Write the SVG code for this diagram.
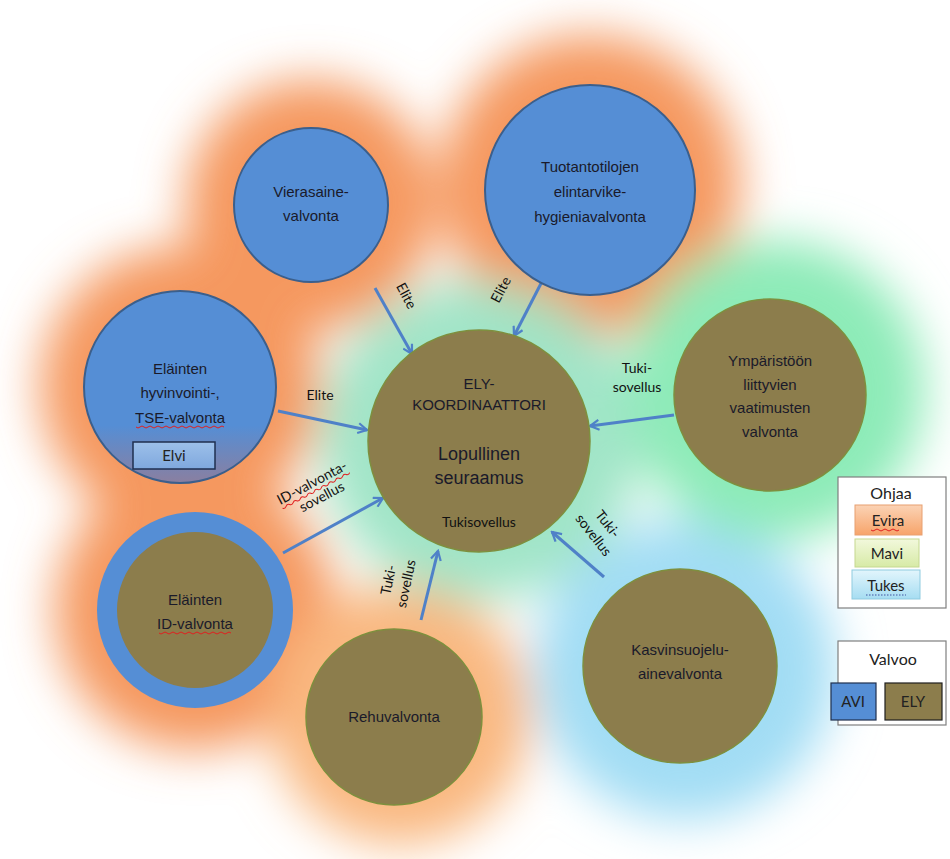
<svg xmlns="http://www.w3.org/2000/svg" width="950" height="859" viewBox="0 0 950 859">
<defs>
<filter id="blur" x="-50%" y="-50%" width="200%" height="200%"><feGaussianBlur stdDeviation="24"/></filter>
<marker id="arr" viewBox="0 0 12 12" refX="10" refY="6" markerWidth="12" markerHeight="12" markerUnits="userSpaceOnUse" orient="auto"><path d="M1,1 L10,6 L1,11" fill="none" stroke="#4F81C8" stroke-width="2.2"/></marker>
<linearGradient id="gEvira" x1="0" y1="0" x2="0" y2="1"><stop offset="0" stop-color="#FBD3B5"/><stop offset="1" stop-color="#F7A46A"/></linearGradient>
<linearGradient id="gMavi" x1="0" y1="0" x2="0" y2="1"><stop offset="0" stop-color="#F2F8DC"/><stop offset="1" stop-color="#D7EAA6"/></linearGradient>
<linearGradient id="gTukes" x1="0" y1="0" x2="0" y2="1"><stop offset="0" stop-color="#E2F5FC"/><stop offset="1" stop-color="#A6DDF2"/></linearGradient>
<linearGradient id="gElvi" x1="0" y1="0" x2="0" y2="1"><stop offset="0" stop-color="#9DC0EA"/><stop offset="1" stop-color="#7FA8DD"/></linearGradient>
<linearGradient id="gHyv" x1="0" y1="0" x2="0" y2="1"><stop offset="0.7" stop-color="#558ED5"/><stop offset="1" stop-color="#8A7FA0"/></linearGradient>
</defs>
<style>
.avi{fill:#558ED5;stroke:#3B5F8C;stroke-width:2}
.ely{fill:#8C7D4C;stroke:#7E8F3E;stroke-width:1.5}
.t{font-family:"Liberation Sans",Arial,sans-serif;font-size:15px;fill:#1A1A2A;text-anchor:middle}
.l{font-family:Lato,"Open Sans",sans-serif;font-size:14px;fill:#111;text-anchor:middle}
.lg{font-family:Lato,"Open Sans",sans-serif;font-size:15px;fill:#222;text-anchor:middle}
.c{stroke:#4F81C8;stroke-width:3;fill:none;marker-end:url(#arr)}
.sq{fill:none;stroke:#E02020;stroke-width:1}
.go{fill:#F5985F}
</style>
<rect width="950" height="859" fill="#FFFFFF"/>
<g id="glows" filter="url(#blur)">
<circle class="go" cx="311" cy="205" r="125"/>
<circle class="go" cx="590" cy="185" r="150"/>
<circle class="go" cx="180" cy="387" r="140"/>
<circle class="go" cx="195" cy="610" r="140"/>
<circle cx="400" cy="715" r="130" fill="#F9B880"/>
<circle cx="685" cy="670" r="150" fill="#A2DDF4"/>
<circle cx="775" cy="390" r="150" fill="#8DEBB8"/>
<circle cx="480" cy="440" r="160" fill="#9CE4C4" opacity="0.95"/>
</g>
<g id="connectors">
<line class="c" x1="375" y1="288" x2="412" y2="354"/>
<line class="c" x1="551" y1="264" x2="514" y2="336"/>
<line class="c" x1="278" y1="411" x2="367" y2="430"/>
<line class="c" x1="674" y1="415" x2="590" y2="426"/>
<line class="c" x1="283" y1="553" x2="383" y2="498"/>
<line class="c" x1="421" y1="620" x2="438" y2="551"/>
<line class="c" x1="604" y1="577" x2="552" y2="532"/>
<text class="l" transform="translate(402,298) rotate(62)">Elite</text>
<text class="l" transform="translate(505,292) rotate(-62)">Elite</text>
<text class="l" x="320" y="400">Elite</text>
<text class="l" x="637" y="373">Tuki-</text>
<text class="l" x="637" y="392">sovellus</text>
<g transform="translate(318,494) rotate(-28)"><text class="l" x="0" y="-8">ID-valvonta-</text><text class="l" x="2" y="9">sovellus</text>
<path class="sq" d="M-38,-4 q2,2 4,0 t4,0 t4,0 t4,0 t4,0 t4,0 t4,0 t4,0 t4,0 t4,0 t4,0 t4,0 t4,0 t4,0 t4,0 t4,0 t4,0 t4,0 t4,0"/></g>
<g transform="translate(398,582) rotate(-78)"><text class="l" x="0" y="-5">Tuki-</text><text class="l" x="0" y="13">sovellus</text></g>
<g transform="translate(600,530) rotate(52)"><text class="l" x="0" y="-5">Tuki-</text><text class="l" x="0" y="13">sovellus</text></g>
</g>
<g id="vierasaine"><circle class="avi" cx="311" cy="205" r="77"/>
<text class="t" x="311" y="197">Vierasaine-</text><text class="t" x="311" y="221">valvonta</text></g>
<g id="tuotanto"><circle class="avi" cx="590" cy="190" r="105"/>
<text class="t" x="590" y="172">Tuotantotilojen</text><text class="t" x="590" y="197">elintarvike-</text><text class="t" x="590" y="222">hygieniavalvonta</text></g>
<g id="hyvinvointi"><circle class="avi" cx="180" cy="387" r="96" style="fill:url(#gHyv)"/>
<text class="t" x="180" y="374">Eläinten</text><text class="t" x="180" y="398">hyvinvointi-,</text><text class="t" x="180" y="423">TSE-valvonta</text>
<path class="sq" d="M136,427 q2,2 4,0 t4,0 t4,0 t4,0 t4,0 t4,0 t4,0 t4,0 t4,0 t4,0 t4,0 t4,0 t4,0 t4,0 t4,0 t4,0 t4,0 t4,0 t4,0 t4,0 t4,0 t4,0"/>
<g id="elvi"><rect x="133" y="442" width="82" height="27" fill="url(#gElvi)" stroke="#1F2F4F" stroke-width="1.5"/><text class="lg" x="174" y="461">Elvi</text></g></g>
<g id="ymparisto"><circle class="ely" cx="770" cy="395" r="96"/>
<text class="t" x="770" y="366">Ympäristöön</text><text class="t" x="770" y="390">liittyvien</text><text class="t" x="770" y="413">vaatimusten</text><text class="t" x="770" y="437">valvonta</text></g>
<g id="koordinaattori"><circle class="ely" cx="479" cy="441" r="111"/>
<text class="t" x="479" y="389">ELY-</text><text class="t" x="479" y="410">KOORDINAATTORI</text>
<text class="t" x="479" y="460" style="font-size:18px">Lopullinen</text><text class="t" x="479" y="484" style="font-size:18px">seuraamus</text>
<text class="l" x="479" y="527">Tukisovellus</text></g>
<g id="id-valvonta"><circle cx="195" cy="610" r="88" fill="#8C7D4C" stroke="#558ED5" stroke-width="20"/>
<text class="t" x="195" y="605">Eläinten</text><text class="t" x="195" y="629">ID-valvonta</text>
<path class="sq" d="M159,633 q2,2 4,0 t4,0 t4,0 t4,0 t4,0 t4,0 t4,0 t4,0 t4,0 t4,0 t4,0 t4,0 t4,0 t4,0 t4,0 t4,0 t4,0 t4,0"/></g>
<g id="rehu"><circle class="ely" cx="394" cy="717" r="88"/><text class="t" x="394" y="722">Rehuvalvonta</text></g>
<g id="kasvinsuojelu"><circle class="ely" cx="680" cy="666" r="97"/>
<text class="t" x="680" y="655">Kasvinsuojelu-</text><text class="t" x="680" y="679">ainevalvonta</text></g>
<g id="legend-ohjaa"><rect x="838" y="477" width="108" height="131" fill="#FFFFFF" stroke="#7F7F7F" stroke-width="1.2"/>
<text class="lg" x="891" y="499" style="font-size:16px">Ohjaa</text>
<rect x="855" y="505" width="67" height="30" fill="url(#gEvira)" stroke="#E8A070"/><text class="lg" x="888" y="526">Evira</text>
<path class="sq" d="M871,530 q2,2 4,0 t4,0 t4,0 t4,0 t4,0 t4,0 t4,0"/>
<rect x="855" y="539" width="64" height="28" fill="url(#gMavi)" stroke="#C5D890"/><text class="lg" x="887" y="559">Mavi</text>
<rect x="852" y="570" width="68" height="29" fill="url(#gTukes)" stroke="#8FCBE0"/><text class="lg" x="886" y="591">Tukes</text>
<line x1="866" y1="595" x2="906" y2="595" stroke="#4050A0" stroke-width="1" stroke-dasharray="1.5,1.5"/></g>
<g id="legend-valvoo"><rect x="838" y="641" width="108" height="84" fill="#FFFFFF" stroke="#7F7F7F" stroke-width="1.2"/>
<text class="lg" x="893" y="665" style="font-size:16px">Valvoo</text>
<rect x="831" y="683" width="45" height="37" fill="#558ED5" stroke="#1F2F4F" stroke-width="1.2"/><text class="lg" x="853" y="707">AVI</text>
<rect x="885" y="683" width="57" height="37" fill="#8C7D4C" stroke="#1F1F1F" stroke-width="1.2"/><text class="lg" x="913" y="707">ELY</text></g>
</svg>
